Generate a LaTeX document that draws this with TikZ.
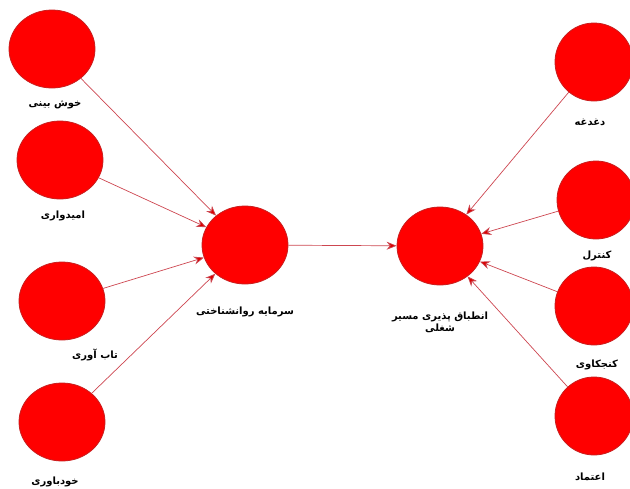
\documentclass[tikz,border=0pt]{standalone}
\usepackage{fontspec}
\newfontfamily\arabicfont[Script=Arabic]{DejaVu Sans}
\TeXXeTstate=1
\usetikzlibrary{shapes.geometric,arrows.meta}
\definecolor{fillred}{RGB}{255,0,0}
\definecolor{edgered}{RGB}{200,30,30}
\definecolor{linered}{RGB}{205,70,80}
\tikzset{
  blob/.style={ellipse,fill=fillred,draw=edgered,line width=0.8pt,minimum width=86pt,minimum height=78pt,inner sep=0pt},
  lbl/.style={font=\arabicfont\bfseries\fontsize{10}{12}\selectfont,align=center,inner sep=1pt},
  conn/.style={draw=linered,line width=0.7pt,-{Stealth[length=10pt,width=8pt,fill=fillred!85!black]}}
}
\newcommand{\ar}[1]{\beginR #1\endR}
\begin{document}
\begin{tikzpicture}[x=1pt,y=-1pt]
\useasboundingbox (0,0) rectangle (630,488);
% left
\node[blob] (a1) at (52,49) {};
\node[blob] (a2) at (60,160) {};
\node[blob] (a3) at (62,301) {};
\node[blob] (a4) at (62,422) {};
\node[blob] (m1) at (245,245) {};
\node[blob] (m2) at (440,246) {};
\node[blob,minimum width=78pt] (b1) at (594,62) {};
\node[blob,minimum width=78pt] (b2) at (596,200) {};
\node[blob,minimum width=78pt] (b3) at (594,306) {};
\node[blob,minimum width=78pt] (b4) at (594,416) {};
% labels
\node[lbl] (la1) at (55,105) {\ar{خوش بینی}};
\node[lbl] (la2) at (63,216) {\ar{امیدواری}};
\node[lbl] (la3) at (95,355) {\ar{تاب آوری}};
\node[lbl] (la4) at (55,482) {\ar{خودباوری}};
\node[lbl] (lm1) at (245,312) {\ar{سرمایه روانشناختی}};
\node[lbl] (lm2) at (440,322) {\ar{انطباق پذیری مسیر}\\\ar{شغلی}};
\node[lbl] (lb1) at (590,122) {\ar{دغدغه}};
\node[lbl] (lb2) at (597,256) {\ar{کنترل}};
\node[lbl] (lb3) at (597,365) {\ar{کنجکاوی}};
\node[lbl] (lb4) at (590,477) {\ar{اعتماد}};
% connectors
\draw[conn] (a1) -- (m1);
\draw[conn] (a2) -- (m1);
\draw[conn] (a3) -- (m1);
\draw[conn] (a4) -- (m1);
\draw[conn] (m1) -- (m2);
\draw[conn] (b1) -- (m2);
\draw[conn] (b2) -- (m2);
\draw[conn] (b3) -- (m2);
\draw[conn] (b4) -- (m2);
\end{tikzpicture}
\end{document}
